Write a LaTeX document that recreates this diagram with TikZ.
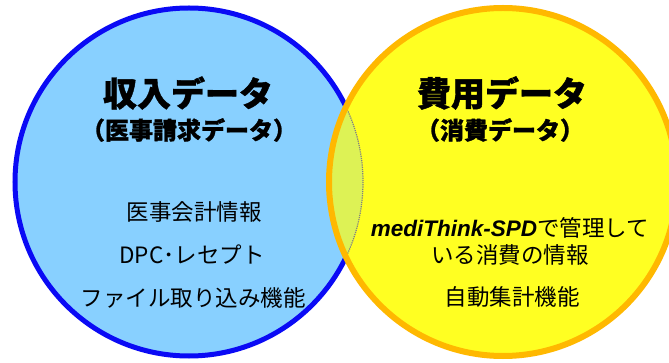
\documentclass[tikz,border=0pt]{standalone}
\usepackage{fontspec}
\newfontfamily\jp{Noto Sans CJK JP}
\newfontfamily\jph[BoldFeatures={FakeBold=1.2}]{Noto Sans CJK JP}
\newfontfamily\lat{Liberation Sans}
\definecolor{bluefill}{HTML}{88D0FF}
\definecolor{bluerim}{HTML}{0A0AF5}
\definecolor{yelfill}{HTML}{FFFF22}
\definecolor{orarim}{HTML}{FFB800}
\definecolor{lensfill}{HTML}{DDF255}
\tikzset{
  title/.style={font=\jph\bfseries\fontsize{34}{38}\selectfont, inner sep=0pt},
  subtitle/.style={font=\jph\bfseries\fontsize{24}{28}\selectfont, inner sep=0pt},
  body/.style={font=\jp\fontsize{22.5}{27}\selectfont, inner sep=0pt, align=center},
}
\begin{document}
\begin{tikzpicture}[x=1pt,y=-1pt]
\useasboundingbox (0,0) rectangle (669,363);
\fill[white] (0,0) rectangle (669,363);
% left circle
\node[circle, minimum size=348pt, inner sep=0pt, outer sep=0pt, fill=bluefill, draw=bluerim, line width=5pt] (left) at (189,182) {};
% right circle fill
\node[circle, minimum size=348pt, inner sep=0pt, outer sep=0pt, fill=yelfill] (right) at (503,182) {};
% lens
\begin{scope}
  \clip (189,182) circle (174);
  \fill[lensfill] (503,182) circle (174);
\end{scope}
\begin{scope}
  \clip (503,182) circle (174);
  \draw[gray, densely dotted, line width=1.2pt] (189,182) circle (174);
\end{scope}
\node[circle, minimum size=348pt, inner sep=0pt, outer sep=0pt, draw=orarim, line width=6pt] (rightrim) at (503,182) {};
% texts
\node[title] (t1) at (188,93) {収入データ};
\node[subtitle] (s1) at (189,130) {（医事請求データ）};
\node[title] (t2) at (502,93) {費用データ};
\node[subtitle] (s2) at (500,130) {（消費データ）};
\node[body] (b1) at (194,212) {医事会計情報};
\node[body] (b2) at (192,255) {DPC･レセプト};
\node[body] (b3) at (193,298) {ファイル取り込み機能};
\node[body] (b4) at (510,241) {{\lat\bfseries\itshape mediThink-SPD}で管理して\\いる消費の情報};
\node[body] (b5) at (512,297) {自動集計機能};
\end{tikzpicture}
\end{document}
